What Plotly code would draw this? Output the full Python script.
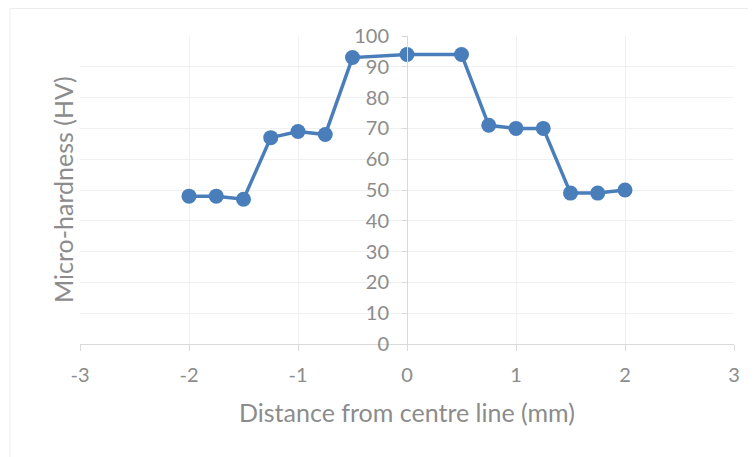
import plotly.graph_objects as go

distance_mm = [-2, -1.75, -1.5, -1.25, -1, -0.75, -0.5, 0, 0.5, 0.75, 1, 1.25, 1.5, 1.75, 2]
hardness_hv = [48, 48, 47, 67, 69, 68, 93, 94, 94, 71, 70, 70, 49, 49, 50]
x_ticks = [-3, -2, -1, 0, 1, 2, 3]
y_ticks = [0, 10, 20, 30, 40, 50, 60, 70, 80, 90, 100]

FONT = "Lato, Open Sans, sans-serif"
GRAY = "#8c8c8c"
GRID = "#f0f0f0"
AXLINE = "#d9d9d9"

W, H = 748, 449
L, R, T, B = 72, 22, 28, 113
PW, PH = W - L - R, H - T - B


def px(x):
    return (x - L) / PW


def py(y):
    return (T + PH - y) / PH


fig = go.Figure()
fig.add_trace(go.Scatter(
    x=distance_mm, y=hardness_hv, mode="lines+markers",
    line=dict(color="#4a7ebb", width=3.5),
    marker=dict(color="#4a7ebb", size=15),
    showlegend=False,
))

fig.update_layout(
    width=W, height=H,
    margin=dict(l=L, r=R, t=T, b=B),
    paper_bgcolor="white", plot_bgcolor="white",
    font=dict(family=FONT, color=GRAY, size=20),
    xaxis=dict(
        range=[-3, 3], tickvals=x_ticks, ticktext=[str(v) for v in x_ticks],
        showgrid=True, gridcolor=GRID, gridwidth=1, zeroline=False,
        showline=True, linecolor=AXLINE, linewidth=1,
        ticks="outside", ticklen=6, tickcolor=AXLINE,
        ticklabelstandoff=7,
        tickfont=dict(size=20, color=GRAY),
    ),
    yaxis=dict(
        range=[0, 100], tickvals=y_ticks,
        showgrid=True, gridcolor=GRID, gridwidth=1, zeroline=False,
        showline=True, linecolor=AXLINE, linewidth=1,
        anchor="free", position=0.5,
        ticks="outside", ticklen=5, tickcolor=AXLINE,
        ticklabelstandoff=9,
        tickfont=dict(size=20, color=GRAY),
    ),
    annotations=[
        dict(
            text="Micro-hardness (HV)", textangle=-90, xref="paper", yref="paper",
            x=px(55), y=0.5, showarrow=False,
            font=dict(size=25, color=GRAY), xanchor="center", yanchor="middle",
        ),
        dict(
            text="Distance from centre line (mm)", xref="paper", yref="paper",
            x=0.5, y=py(404), showarrow=False,
            font=dict(size=25, color=GRAY), xanchor="center", yanchor="middle",
        ),
    ],
    shapes=[dict(
        type="rect", xref="paper", yref="paper",
        x0=px(2), x1=px(W + 20),
        y0=py(H + 20), y1=py(0.5),
        line=dict(color="#ececec", width=1), fillcolor="rgba(0,0,0,0)", layer="below",
    )],
)

fig.write_html("out.html")
